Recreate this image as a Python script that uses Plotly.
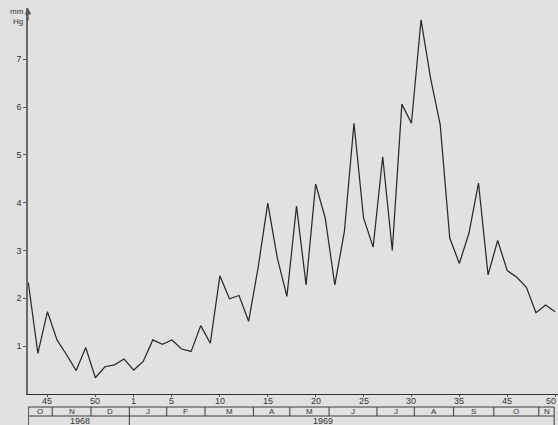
import plotly.graph_objects as go

# Weekly series, Oct 1968 - Nov 1969 (mm Hg), one value per week index
week_index = list(range(56))
pressure_mmhg = [
    2.33, 0.85, 1.72, 1.13, 0.82, 0.49, 0.97, 0.34, 0.57, 0.61,
    0.73, 0.50, 0.68, 1.13, 1.04, 1.13, 0.94, 0.89, 1.43, 1.06,
    2.47, 1.99, 2.06, 1.52, 2.65, 3.99, 2.84, 2.04, 3.93, 2.28,
    4.39, 3.68, 2.28, 3.40, 5.66, 3.68, 3.07, 4.96, 3.00, 6.06,
    5.66, 7.82, 6.60, 5.63, 3.26, 2.73, 3.36, 4.41, 2.49, 3.21,
    2.58, 2.44, 2.23, 1.70, 1.86, 1.72,
]

# Week-number tick labels along the bottom axis
week_tick_index = [2, 7, 11, 15, 20, 25, 30, 35, 40, 45, 50, 55]
week_tick_labels = ["45", "50", "1", "5", "10", "15", "20", "25", "30", "35", "45", "50"]

y_ticks = [1, 2, 3, 4, 5, 6, 7]

# Month strip under the axis: boundaries (in week index) and letters
month_edges = [0, 2.5, 6.55, 10.55, 14.45, 18.45, 23.5, 27.3, 31.4, 36.4, 40.3, 44.4, 48.6, 53.3, 54.9]
month_labels = ["O", "N", "D", "J", "F", "M", "A", "M", "J", "J", "A", "S", "O", "N"]

# Year strip: boundaries and labels
year_edges = [0, 10.55, 54.9]
year_labels = ["1968", "1969"]
year_label_pos = [5.4, 30.8]

BG = "#e1e1e1"
INK = "#2a2a2a"
FONT = "Liberation Sans"

fig = go.Figure()
fig.add_trace(go.Scatter(
    x=week_index, y=pressure_mmhg, mode="lines",
    line=dict(color=INK, width=1.25),
    hoverinfo="skip", showlegend=False,
))

# plot area spans 386 px vertically; strip rows sit below it in paper units
H = 386.0
tick_row = -7.0 / H
row_top = -13.0 / H
row_mid = -22.0 / H
row_bot = -31.5 / H

shapes = []
line_style = dict(color="#3a3a3a", width=1)
for yy in (row_top, row_mid):
    shapes.append(dict(type="line", xref="x", yref="paper",
                       x0=month_edges[0], x1=month_edges[-1], y0=yy, y1=yy, line=line_style))
for e in month_edges:
    shapes.append(dict(type="line", xref="x", yref="paper",
                       x0=e, x1=e, y0=row_top, y1=row_mid, line=line_style))
for e in year_edges:
    shapes.append(dict(type="line", xref="x", yref="paper",
                       x0=e, x1=e, y0=row_mid, y1=row_bot, line=line_style))

annotations = []
last = len(week_tick_index) - 1
for i, (pos, lab) in enumerate(zip(week_tick_index, week_tick_labels)):
    annotations.append(dict(x=pos, y=tick_row, xref="x", yref="paper",
                            text=lab, showarrow=False,
                            font=dict(family=FONT, size=9, color="#333"),
                            xanchor="right" if i == last else "center",
                            xshift=3 if i == last else 0,
                            yanchor="middle"))
for i, lab in enumerate(month_labels):
    cx = (month_edges[i] + month_edges[i + 1]) / 2
    annotations.append(dict(x=cx, y=(row_top + row_mid) / 2, xref="x", yref="paper",
                            text=lab, showarrow=False,
                            font=dict(family=FONT, size=8, color="#333"),
                            xanchor="center", yanchor="middle"))
for lab, pos in zip(year_labels, year_label_pos):
    annotations.append(dict(x=pos, y=(row_mid + row_bot) / 2, xref="x", yref="paper",
                            text=lab, showarrow=False,
                            font=dict(family=FONT, size=9, color="#333"),
                            xanchor="center", yanchor="middle"))

# unit label and arrow tip on the vertical axis
annotations.append(dict(x=0, y=1, xref="paper", yref="paper", text="",
                        showarrow=True, arrowhead=2, arrowsize=1, arrowwidth=1.3,
                        arrowcolor="#555", ax=0, ay=14))
annotations.append(dict(x=-0.004, y=1.008, xref="paper", yref="paper",
                        text="mm<br>Hg", showarrow=False, align="right",
                        font=dict(family=FONT, size=8, color="#333"),
                        xanchor="right", yanchor="top"))

fig.update_layout(
    width=558, height=425, autosize=False,
    margin=dict(l=28, r=0, t=8, b=31, pad=0),
    paper_bgcolor=BG, plot_bgcolor=BG,
    shapes=shapes, annotations=annotations,
    xaxis=dict(range=[-0.03, 55.3], showgrid=False, zeroline=False,
               showline=True, linecolor="#333", linewidth=1.3,
               ticks="outside", ticklen=2, tickcolor="#555",
               tickvals=week_tick_index, showticklabels=False),
    yaxis=dict(range=[0, 8.07], showgrid=False, zeroline=False,
               showline=True, linecolor="#6a6a6a", linewidth=1.5,
               ticks="outside", ticklen=3, tickcolor="#555",
               tickvals=y_ticks,
               tickfont=dict(family=FONT, size=9, color="#333")),
)

fig.write_html("out.html")
